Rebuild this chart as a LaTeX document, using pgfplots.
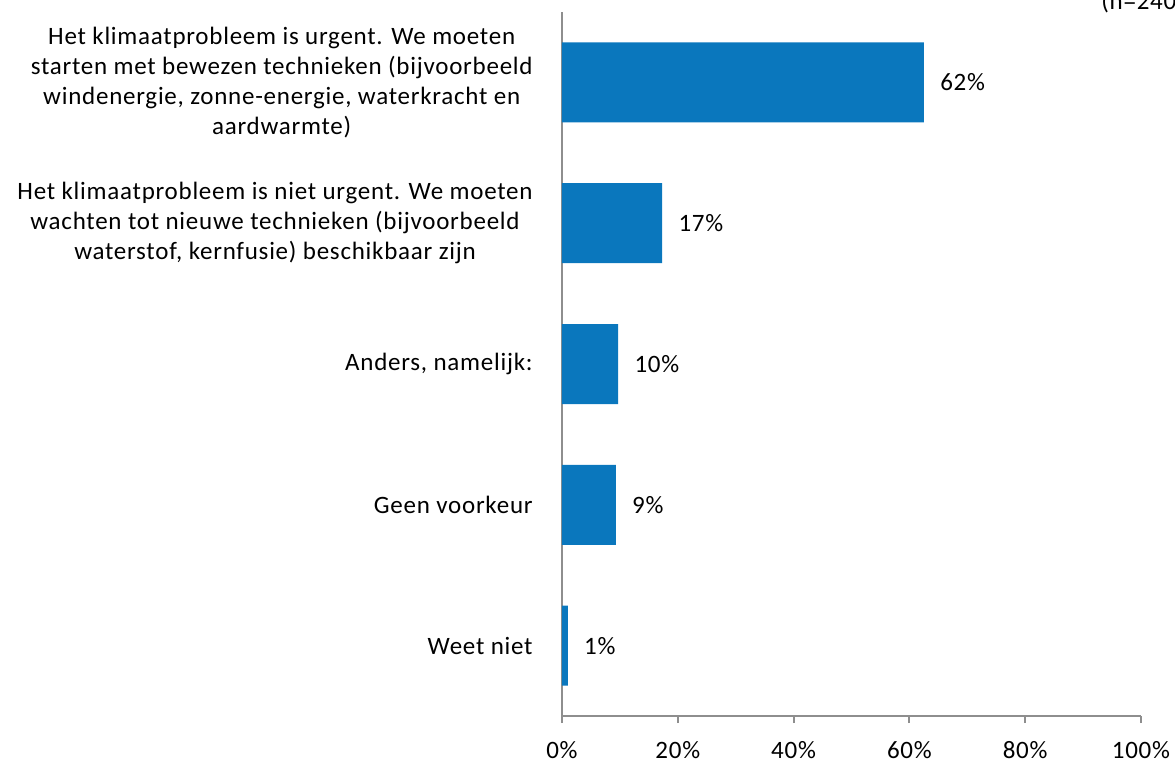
\documentclass[border=0pt]{standalone}
\usepackage{pgfplots}
\pgfplotsset{compat=1.18}
\usepackage{fontspec}
\setmainfont{Carlito}[LetterSpace=3]
\definecolor{barblue}{HTML}{0A77BD}
\definecolor{axisgray}{HTML}{8E8E8E}
\pgfplotstableread{
y x lab
0 62.5 62\%
1 17.3 17\%
2 9.7 10\%
3 9.3 9\%
4 1.0 1\%
}\datatable
\begin{document}
\begin{tikzpicture}
\fontsize{12.5}{15}\selectfont
\useasboundingbox (-281pt,-23pt) rectangle (306.5pt,358pt);
\begin{axis}[
  at={(0,0)}, anchor=south west,
  scale only axis,
  width=289.5pt, height=352pt,
  xmin=0, xmax=100,
  ymin=-0.5, ymax=4.5,
  y dir=reverse,
  axis x line*=bottom,
  axis y line*=left,
  axis line style={-, draw=axisgray, line width=1pt},
  xtick={0,20,40,60,80,100},
  xticklabels={0\%,20\%,40\%,60\%,80\%,100\%},
  tick align=outside,
  major tick length=3.5pt,
  x tick style={draw=axisgray, line width=1pt},
  ytick={0,1,2,3,4},
  y tick style={draw=none},
  yticklabels={
    {Het klimaatprobleem is urgent. We moeten\\starten met bewezen technieken (bijvoorbeeld\\windenergie, zonne-energie, waterkracht en\\aardwarmte)},
    {Het klimaatprobleem is niet urgent. We moeten\\wachten tot nieuwe technieken (bijvoorbeeld\\waterstof, kernfusie) beschikbaar zijn},
    {Anders, namelijk:},
    {Geen voorkeur},
    {Weet niet}},
  yticklabel style={align=center, anchor=east, inner sep=0pt, xshift=-11pt, font=\fontsize{12.5}{15}\selectfont},
  xticklabel style={inner sep=0pt, anchor=base, yshift=-17.5pt, font=\fontsize{12.5}{15}\selectfont},
  clip=false,
]
\addplot[xbar, fill=barblue, draw=none, bar width=40pt,
  nodes near coords, point meta=explicit symbolic,
  nodes near coords align={horizontal},
  every node near coord/.append style={anchor=west, inner sep=0pt, xshift=8pt, font=\fontsize{12.5}{15}\selectfont, text=black}]
  table[x=x, y=y, meta=lab] {\datatable};
\end{axis}
\node[anchor=base west, inner sep=0pt, font=\fontsize{12.5}{15}\selectfont] at (269.5pt,353pt) {(n=240)};
\end{tikzpicture}
\end{document}
